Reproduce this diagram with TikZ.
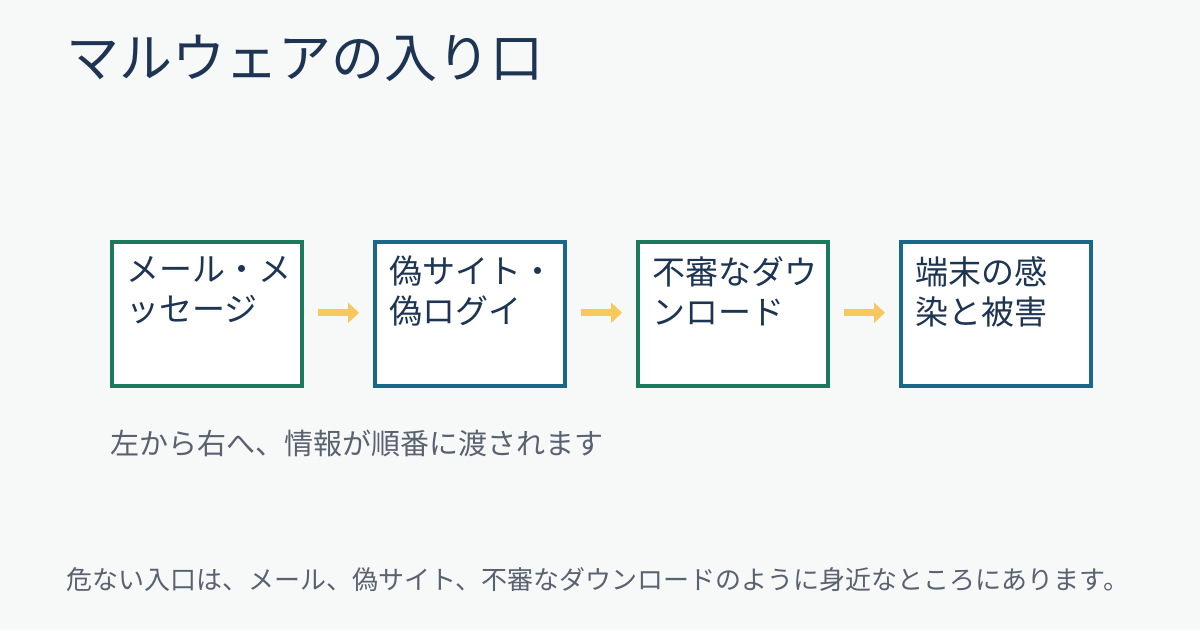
\documentclass[tikz,border=0pt]{standalone}
\usepackage{fontspec}
\setmainfont{Noto Sans CJK JP}
\usetikzlibrary{arrows.meta}
\definecolor{bg}{HTML}{F7F8F8}
\definecolor{navy}{HTML}{1D3553}
\definecolor{grn}{HTML}{1B7A5C}
\definecolor{blu}{HTML}{1A6888}
\definecolor{yel}{HTML}{F5C95A}
\definecolor{gry}{HTML}{5A6270}
\begin{document}
\begin{tikzpicture}[x=1pt,y=-1pt,
 box/.style={draw=#1,line width=3.5pt,fill=white,minimum width=190pt,minimum height=144pt,anchor=north west,inner sep=0pt},
 lbl/.style={anchor=north west,align=left,text=navy,font=\fontsize{33}{40}\selectfont,inner sep=0pt},
 arr/.style={draw=yel,line width=7pt,-{Triangle[length=11pt,width=20pt]}}]
\fill[bg] (0,0) rectangle (1200,630);
\useasboundingbox (0,0) rectangle (1200,630);
\node[anchor=west,text=navy,font=\fontsize{53}{56}\selectfont,inner sep=0pt] (title) at (66,58) {マルウェアの入り口};
\node[box=grn] (b1) at (110,240) {};
\node[box=blu] (b2) at (373,240) {};
\node[box=grn] (b3) at (636,240) {};
\node[box=blu] (b4) at (899,240) {};
\node[lbl] (t1) at (126,256) {メール・メ\\ッセージ};
\node[lbl] (t2) at (389,256) {偽サイト・\\偽ログイ};
\node[lbl] (t3) at (652,256) {不審なダウ\\ンロード};
\node[lbl] (t4) at (915,256) {端末の感\\染と被害};
\draw[arr] ([xshift=14pt,yshift=1pt]b1.east) -- ([xshift=-14pt,yshift=1pt]b2.west);
\draw[arr] ([xshift=14pt,yshift=1pt]b2.east) -- ([xshift=-14pt,yshift=1pt]b3.west);
\draw[arr] ([xshift=14pt,yshift=1pt]b3.east) -- ([xshift=-14pt,yshift=1pt]b4.west);
\node[anchor=west,text=gry,font=\fontsize{29}{32}\selectfont,inner sep=0pt] (cap) at (110,443) {左から右へ、情報が順番に渡されます};
\node[anchor=west,text=gry,font=\fontsize{26}{30}\selectfont,inner sep=0pt] (foot) at (66,580) {危ない入口は、メール、偽サイト、不審なダウンロードのように身近なところにあります。};
\end{tikzpicture}
\end{document}
